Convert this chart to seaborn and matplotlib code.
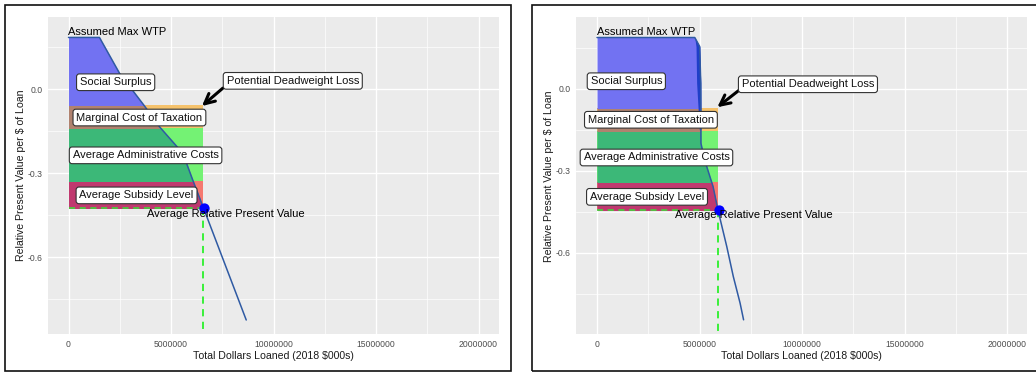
import numpy as np
import matplotlib
matplotlib.use("Agg")
import matplotlib.pyplot as plt
from matplotlib.patches import Rectangle
import seaborn as sns

# ---- data ----
x_ticks = [0, 5000000, 10000000, 15000000, 20000000]
x_tick_labels = ["0", "5000000", "10000000", "15000000", "20000000"]
x_minor = [2500000, 7500000, 12500000, 17500000]
y_ticks = [-0.6, -0.3, 0.0]
y_tick_labels = ["-0.6", "-0.3", "0.0"]
y_minor = [-0.75, -0.45, -0.15, 0.15]

# demand curve, left panel
left_curve_x = [0, 1510000, 2490000, 3710000, 4440000, 5580000, 6060000, 6590000, 8670000]
left_curve_y = [0.185, 0.185, 0.057, -0.060, -0.134, -0.229, -0.324, -0.425, -0.824]
# band levels: subsidy bottom, admin bottom, tax bottom, surplus bottom
left_levels = [-0.425, -0.327, -0.139, -0.057]
left_edge = 6570000
left_point = (6590000, -0.425)

# demand curve, right panel
right_curve_x = [0, 4770000, 5010000, 5060000, 5070000, 5250000, 5660000, 5900000, 6330000, 6650000, 6980000, 7150000]
right_curve_y = [0.187, 0.187, 0.154, 0.020, -0.200, -0.261, -0.358, -0.444, -0.578, -0.688, -0.785, -0.846]
right_levels = [-0.444, -0.343, -0.154, -0.072]
right_edge = 5880000
right_point = (5930000, -0.444)
# darker steep section of the right curve
sliver_y = [0.187, 0.154, 0.020, -0.150]
sliver_left = [4770000, 4830000, 4860000, 4990000]
sliver_right = [4770000, 5010000, 5060000, 5070000]

dark_colors = ["#c0396f", "#3cb878", "#b0826f"]
light_colors = ["#f5786f", "#74f274", "#f5c26c"]
surplus_color = "#7272f2"

left_labels = {
    "Social Surplus": (2300000, 0.025),
    "Marginal Cost of Taxation": (3460000, -0.101),
    "Average Administrative Costs": (3760000, -0.236),
    "Average Subsidy Level": (3320000, -0.379),
    "Potential Deadweight Loss": (10940000, 0.030),
}
right_labels = {
    "Social Surplus": (1430000, 0.027),
    "Marginal Cost of Taxation": (2630000, -0.114),
    "Average Administrative Costs": (2900000, -0.252),
    "Average Subsidy Level": (2440000, -0.396),
    "Potential Deadweight Loss": (10290000, 0.016),
}
left_wtp_y, right_wtp_y = 0.205, 0.207
left_arpv = (7660000, -0.444)
right_arpv = (7640000, -0.463)
left_arrow = [(7530000, 0.004), (6510000, -0.060)]
right_arrow = [(6910000, -0.007), (5870000, -0.068)]

left_lims = ((-1000000, 21000000), (-0.874, 0.258))
right_lims = ((-1010000, 20990000), (-0.899, 0.261))

# ---- style ----
sns.set_theme(style="darkgrid", rc={
    "axes.facecolor": "#ebebeb",
    "grid.color": "white",
    "axes.edgecolor": "#ebebeb",
})
plt.rcParams["font.family"] = ["Liberation Sans", "DejaVu Sans"]

fig = plt.figure(figsize=(10.36, 3.72), dpi=100)
W, H = 1036, 372


def px_axes(x0, y0, x1, y1):
    return fig.add_axes([x0 / W, 1 - y1 / H, (x1 - x0) / W, (y1 - y0) / H])


def draw_panel(ax, cx, cy, levels, edge, point, labels, wtp_y, arpv, arrow, lims):
    ax.set_xlim(*lims[0])
    ax.set_ylim(*lims[1])
    low = lims[1][0]
    # bands split by the curve: dark left of it, light right of it
    for i in range(3):
        y0, y1 = levels[i], levels[i + 1]
        ax.fill_between([0, edge], y0, y1, color=light_colors[i], lw=0, zorder=1)
        coll = ax.fill_between(cx, low, cy, color=dark_colors[i], lw=0, zorder=2)
        coll.set_clip_path(Rectangle((0, y0), edge, y1 - y0, transform=ax.transData))
    coll = ax.fill_between(cx, low, cy, color=surplus_color, lw=0, zorder=2)
    coll.set_clip_path(Rectangle((0, levels[3]), edge, 1.0, transform=ax.transData))

    ax.plot([0, edge], [point[1], point[1]], ls=(0, (4, 3)), color="#36e336", lw=1.1, zorder=3)
    ax.plot([edge, edge], [point[1], low], ls=(0, (4, 3)), color="#2bf02b", lw=1.3, zorder=3)

    sns.lineplot(x=cx, y=cy, ax=ax, color="#2f5aa3", lw=1.1, estimator=None, sort=False, zorder=4)
    sns.scatterplot(x=[point[0]], y=[point[1]], ax=ax, color="#0000ff", s=55, linewidth=0, zorder=5)

    box = dict(boxstyle="round,pad=0.3,rounding_size=0.25", fc="white", ec="#333333", lw=0.8)
    for txt, (lx, ly) in labels.items():
        ax.text(lx, ly, txt, ha="center", va="center", fontsize=8, color="#111111", bbox=box, zorder=7)
    ax.text(0, wtp_y, "Assumed Max WTP", ha="left", va="center", fontsize=8, color="black", zorder=6)
    ax.text(arpv[0], arpv[1], "Average Relative Present Value", ha="center", va="center",
            fontsize=8, color="black", zorder=6)
    ax.annotate("", xy=arrow[1], xytext=arrow[0],
                arrowprops=dict(arrowstyle="->", lw=2.2, color="black", mutation_scale=18,
                                shrinkA=0, shrinkB=0), zorder=6)

    ax.set_xticks(x_ticks)
    ax.set_xticklabels(x_tick_labels)
    ax.set_yticks(y_ticks)
    ax.set_yticklabels(y_tick_labels)
    ax.set_xticks(x_minor, minor=True)
    ax.set_yticks(y_minor, minor=True)
    ax.grid(which="major", color="white", lw=1.0)
    ax.grid(which="minor", color="white", lw=0.5)
    ax.tick_params(which="major", length=2.5, width=0.6, color="#333333", labelsize=6.2,
                   labelcolor="#4d4d4d", pad=1.5)
    ax.tick_params(which="minor", length=0)
    ax.set_xlabel("Total Dollars Loaned (2018 $000s)", fontsize=7.6, color="#1a1a1a", labelpad=1.5)
    ax.set_ylabel("Relative Present Value per $ of Loan", fontsize=7.6, color="#1a1a1a", labelpad=1)
    for s in ax.spines.values():
        s.set_visible(False)


ax1 = px_axes(48, 17, 499, 334)
draw_panel(ax1, left_curve_x, left_curve_y, left_levels, left_edge, left_point,
           left_labels, left_wtp_y, left_arpv, left_arrow, left_lims)

ax2 = px_axes(576.3, 17.3, 1027.3, 334.3)
draw_panel(ax2, right_curve_x, right_curve_y, right_levels, right_edge, right_point,
           right_labels, right_wtp_y, right_arpv, right_arrow, right_lims)
ax2.fill_betweenx(sliver_y, sliver_left, sliver_right, color="#1f3fc8", lw=0, zorder=3)

# frames around each panel
for x0, x1 in [(4.5, 510.5), (532, 1040)]:
    fig.add_artist(Rectangle((x0 / W, 1 - 370.5 / H), (x1 - x0) / W, 366 / H,
                             transform=fig.transFigure, fill=False, ec="#111111", lw=1.2))

fig.savefig("out.png", dpi=100)
